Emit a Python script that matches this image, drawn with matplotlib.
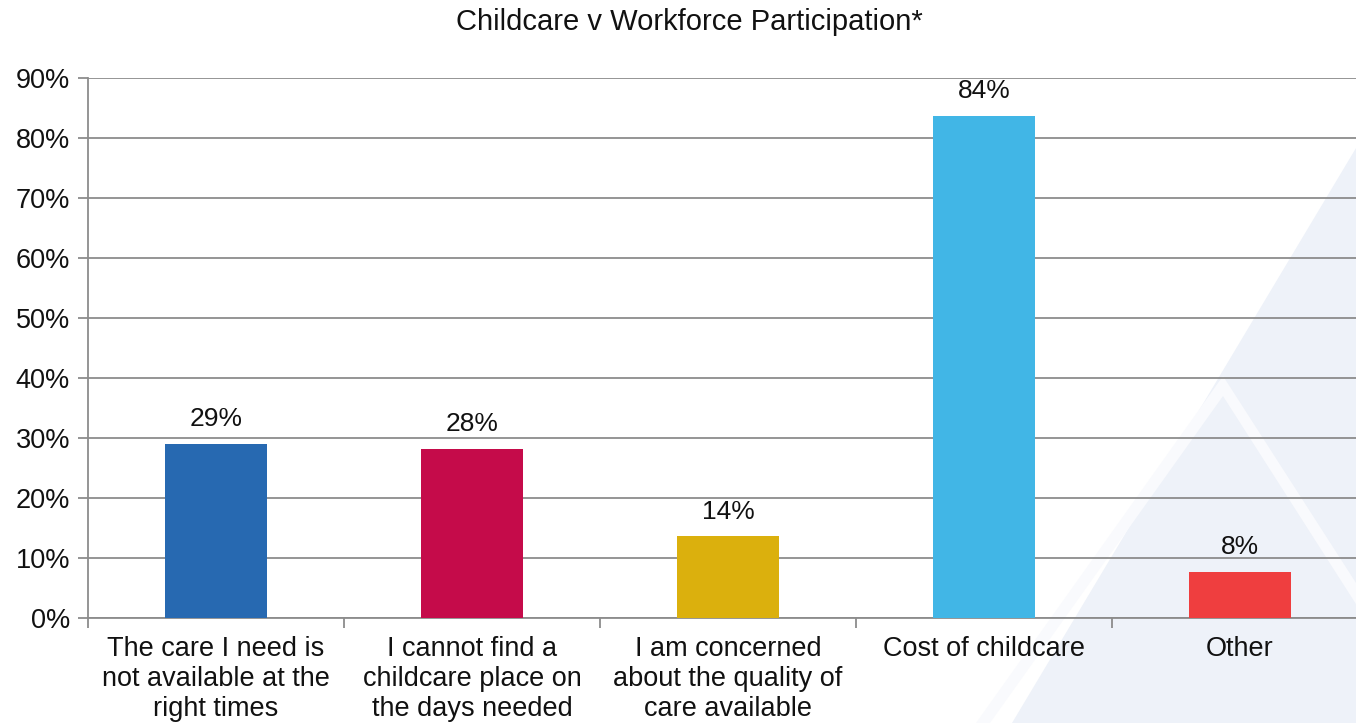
import matplotlib
matplotlib.use("Agg")
import matplotlib.pyplot as plt
from matplotlib.patches import Polygon

categories = ["The care I need is\nnot available at the\nright times",
              "I cannot find a\nchildcare place on\nthe days needed",
              "I am concerned\nabout the quality of\ncare available",
              "Cost of childcare",
              "Other"]
values = [29.0, 28.2, 13.6, 83.7, 7.7]
value_labels = ["29%", "28%", "14%", "84%", "8%"]
colors = ["#2769b1", "#c50b4a", "#dbb00d", "#41b6e6", "#ef3e3f"]
yticks = [0, 10, 20, 30, 40, 50, 60, 70, 80, 90]
ytick_labels = [f"{t}%" for t in yticks]

plt.rcParams['font.family'] = ['Liberation Sans', 'DejaVu Sans']

W, H = 1356, 723
fig = plt.figure(figsize=(W / 100, H / 100), dpi=100)
fig.patch.set_facecolor("white")

def fp(x, y):
    return (x / W, 1 - y / H)

# faint watermark triangles (figure background)
wm = "#eef2f9"
big = Polygon([fp(1356, 148), fp(1356, 723), fp(1012, 723)], closed=True,
              transform=fig.transFigure, facecolor=wm, edgecolor="none", zorder=-2)
stripe = Polygon([fp(1223, 376), fp(1446, 723), fp(1432, 723), fp(1223, 396),
                  fp(990, 723), fp(976, 723)], closed=True,
                 transform=fig.transFigure, facecolor="#f9fafd", edgecolor="none", zorder=-1)
fig.patches.extend([big, stripe])

ax = fig.add_axes([88 / W, 105 / H, 1280 / W, 540 / H])
ax.set_facecolor("none")
ax.set_zorder(1)

x = list(range(len(categories)))
ax.bar(x, values, width=0.4, color=colors, zorder=3)
for xi, v, lab in zip(x, values, value_labels):
    ax.annotate(lab, (xi, v), xytext=(0, 9), textcoords="offset points",
                ha="center", va="bottom", fontsize=19, color="#111111")

ax.set_xlim(-0.5, len(categories) - 0.5)
ax.set_ylim(0, 90)
ax.set_yticks(yticks)
ax.set_yticklabels(ytick_labels, fontsize=19.5, color="#111111")
ax.yaxis.grid(True, color="#8c8c8c", linewidth=1.3, zorder=1)
ax.set_axisbelow(True)

ax.set_xticks(x)
ax.set_xticklabels(categories, fontsize=19.5, color="#111111", linespacing=1.2)
ax.tick_params(axis="x", length=0, pad=13)
ax.set_xticks([i - 0.5 for i in range(len(categories) + 1)], minor=True)
ax.tick_params(axis="x", which="minor", length=7, color="#8c8c8c", width=1.3)
ax.tick_params(axis="y", length=7, color="#8c8c8c", width=1.3, pad=6)

for s in ["top", "right"]:
    ax.spines[s].set_visible(False)
ax.spines["left"].set_color("#8c8c8c")
ax.spines["left"].set_linewidth(1.3)
ax.spines["bottom"].set_color("#8c8c8c")
ax.spines["bottom"].set_linewidth(1.3)

fig.text(689 / W, 1 - 22 / H, "Childcare v Workforce Participation*", ha="center",
         va="center", fontsize=21, color="#111111")

fig.savefig("out.png", dpi=100)
